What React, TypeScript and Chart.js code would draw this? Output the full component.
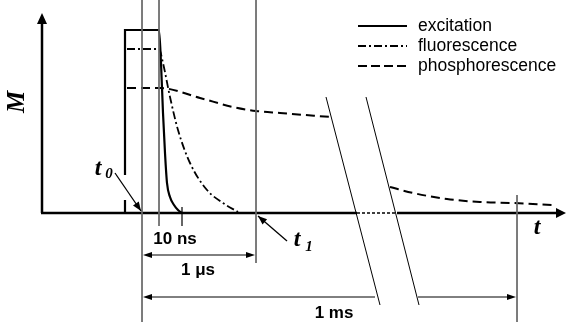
import React, { useEffect, useRef } from "react";
import { Chart, registerables } from "chart.js";

Chart.register(...registerables);

// Schematic time axis (t, drawing units) and signal magnitude M (units above the t axis)
const excitationT = [125, 125, 159, 161, 163, 165, 167, 170, 174, 178, 182];
const excitationM = [38, 183, 183, 150, 100, 60, 30, 16, 8, 3, 0];
const excitationFootT = [125, 125];
const excitationFootM = [13, 0];

const fluorescenceT = [127, 159, 163, 170, 178, 190, 207, 223, 238];
const fluorescenceM = [164, 164, 150, 116, 83, 50, 23, 10, 1];

const phosphorEarlyT = [127, 160, 200, 233, 256, 280, 331];
const phosphorEarlyM = [125, 125, 115, 106, 102, 100, 96];
const phosphorLateT = [390, 413, 447, 480, 513, 553];
const phosphorLateM = [26, 20, 14, 11, 10, 8];

// Reference time markers: t0, end of excitation, t1, end of 1 ms
const markerT = [142, 159, 256, 517];
const markerTopM = [213, 213, 213, 18];
const markerBottomM = [-109, -13, -50, -109];

const legendLabels = ["excitation", "fluorescence", "phosphorescence"];
const spanLabels = ["10 ns", "1 μs", "1 ms"];

const pts = (t: number[], m: number[]) => t.map((x, i) => ({ x, y: m[i] }));

const base = {
  showLine: true,
  pointRadius: 0,
  borderColor: "#000",
  fill: false,
  tension: 0,
};

const drawPlugin = {
  id: "schematic",
  afterDatasetsDraw(chart: any) {
    const { ctx } = chart;
    const xs = chart.scales.x;
    const ys = chart.scales.y;
    const X = (v: number) => xs.getPixelForValue(v);
    const Y = (v: number) => ys.getPixelForValue(v);
    ctx.save();
    ctx.fillStyle = "#000";
    ctx.strokeStyle = "#000";

    const tri = (tipX: number, tipY: number, dx: number, dy: number, len: number, hw: number) => {
      const n = Math.hypot(dx, dy);
      const ux = dx / n, uy = dy / n;
      const bx = tipX - ux * len, by = tipY - uy * len;
      ctx.beginPath();
      ctx.moveTo(tipX, tipY);
      ctx.lineTo(bx - uy * hw, by + ux * hw);
      ctx.lineTo(bx + uy * hw, by - ux * hw);
      ctx.closePath();
      ctx.fill();
    };

    // axis arrowheads
    tri(X(42), Y(200), 0, -1, 11, 5);
    tri(X(566), Y(0), 1, 0, 10, 5);

    // dimension arrowheads
    tri(X(143), Y(-42), -1, 0, 9, 3);
    tri(X(255), Y(-42), 1, 0, 9, 3);
    tri(X(143), Y(-84), -1, 0, 9, 3);
    tri(X(516), Y(-84), 1, 0, 9, 3);

    // t0 and t1 pointer arrows
    const pointer = (x1: number, y1: number, x2: number, y2: number) => {
      ctx.lineWidth = 1.3;
      ctx.beginPath();
      ctx.moveTo(X(x1), Y(y1));
      ctx.lineTo(X(x2), Y(y2));
      ctx.stroke();
      tri(X(x2), Y(y2), X(x2) - X(x1), Y(y2) - Y(y1), 9, 3.5);
    };
    pointer(115, 40, 141, 2);
    pointer(287, -28, 258, -3);

    // span labels
    ctx.font = "bold 17px 'Liberation Sans', Arial, sans-serif";
    ctx.textAlign = "center";
    ctx.textBaseline = "middle";
    ctx.fillText(spanLabels[0], X(175), Y(-26));
    ctx.fillText(spanLabels[1], X(198), Y(-57));
    ctx.fillText(spanLabels[2], X(334), Y(-100));

    // italic symbols
    ctx.font = "bold italic 24px 'Liberation Serif', 'Times New Roman', serif";
    ctx.fillText("t", X(537), Y(-15));
    ctx.fillText("t", X(98), Y(44));
    ctx.fillText("t", X(297), Y(-27));
    ctx.font = "bold italic 15px 'Liberation Serif', 'Times New Roman', serif";
    ctx.fillText("0", X(109), Y(39));
    ctx.fillText("1", X(309), Y(-34));

    ctx.save();
    ctx.translate(X(18), Y(111));
    ctx.rotate(-Math.PI / 2);
    ctx.font = "bold italic 25px 'Liberation Serif', 'Times New Roman', serif";
    ctx.fillText("M", 0, 0);
    ctx.restore();

    // legend
    const legendM = [187, 167, 147];
    const dashes = [[], [8, 3, 2, 3], [9, 4]];
    ctx.textAlign = "left";
    ctx.font = "17.5px 'Liberation Sans', Arial, sans-serif";
    legendLabels.forEach((label, i) => {
      ctx.lineWidth = 2;
      ctx.setLineDash(dashes[i]);
      ctx.beginPath();
      ctx.moveTo(X(358), Y(legendM[i]));
      ctx.lineTo(X(407), Y(legendM[i]));
      ctx.stroke();
      ctx.setLineDash([]);
      ctx.fillText(label, X(418), Y(legendM[i]));
    });
    ctx.restore();
  },
};

export default function App() {
  const ref = useRef<HTMLCanvasElement>(null);
  useEffect(() => {
    document.body.style.margin = "0";
    const grey = "#6a6a6a";
    const datasets: any[] = [];
    // marker lines
    markerT.forEach((t, i) => {
      datasets.push({ ...base, borderColor: grey, borderWidth: 1, data: pts([t, t], [markerTopM[i], markerBottomM[i]]) });
    });
    // 10 ns tick
    datasets.push({ ...base, borderWidth: 1.2, data: pts([182, 182], [6, -13]) });
    // break lines
    datasets.push({ ...base, borderWidth: 1, data: pts([326, 380], [116, -92]) });
    datasets.push({ ...base, borderWidth: 1, data: pts([366, 419], [116, -92]) });
    // axes
    datasets.push({ ...base, borderWidth: 2.5, data: pts([42, 42], [0, 190]) });
    datasets.push({ ...base, borderWidth: 2.5, data: pts([41, 357], [0, 0]) });
    datasets.push({ ...base, borderWidth: 2.5, data: pts([397, 557], [0, 0]) });
    datasets.push({ ...base, borderWidth: 1.3, borderDash: [3, 2], data: pts([357, 397], [0, 0]) });
    // dimension lines
    datasets.push({ ...base, borderWidth: 1, data: pts([146, 252], [-42, -42]) });
    datasets.push({ ...base, borderWidth: 1, data: pts([146, 375], [-84, -84]) });
    datasets.push({ ...base, borderWidth: 1, data: pts([418, 512], [-84, -84]) });
    // signals
    datasets.push({ ...base, label: legendLabels[0], borderWidth: 2.2, data: pts(excitationT, excitationM), cubicInterpolationMode: "monotone" });
    datasets.push({ ...base, borderWidth: 2.2, data: pts(excitationFootT, excitationFootM) });
    datasets.push({ ...base, label: legendLabels[1], borderWidth: 1.8, borderDash: [8, 3, 2, 3], data: pts(fluorescenceT, fluorescenceM), cubicInterpolationMode: "monotone" });
    datasets.push({ ...base, label: legendLabels[2], borderWidth: 2, borderDash: [9, 5], data: pts(phosphorEarlyT, phosphorEarlyM), cubicInterpolationMode: "monotone" });
    datasets.push({ ...base, borderWidth: 2, borderDash: [9, 5], data: pts(phosphorLateT, phosphorLateM), cubicInterpolationMode: "monotone" });

    const chart = new Chart(ref.current!, {
      type: "scatter",
      data: { datasets },
      options: {
        responsive: false,
        animation: false,
        devicePixelRatio: 1,
        layout: { padding: 0 },
        plugins: { legend: { display: false }, tooltip: { enabled: false } },
        scales: {
          x: { type: "linear", display: false, min: 0, max: 566 },
          y: { type: "linear", display: false, min: -109, max: 213 },
        },
      },
      plugins: [drawPlugin],
    });
    return () => chart.destroy();
  }, []);
  return (
    <div style={{ position: "fixed", left: 0, top: 0, width: 566, height: 322, background: "#fff" }}>
      <canvas ref={ref} width={566} height={322} style={{ display: "block" }} />
    </div>
  );
}
